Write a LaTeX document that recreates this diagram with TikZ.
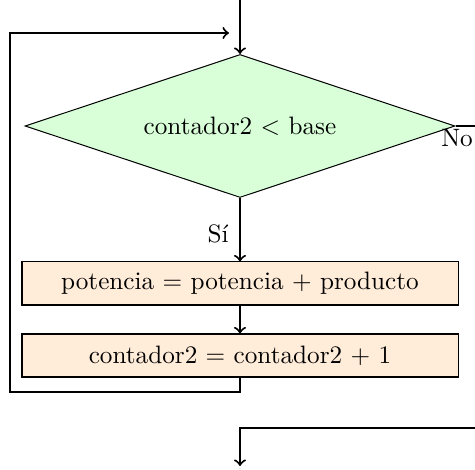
\documentclass[tikz,border=0pt]{standalone}
\usetikzlibrary{shapes.geometric}
\begin{document}
\begin{tikzpicture}[x=0.397pt,y=-0.397pt,
  decision/.style={diamond,draw,fill=green!15,line width=0.4pt,inner sep=1pt,shape aspect=3,minimum width=430*0.397pt,minimum height=143*0.397pt},
  process/.style={rectangle,draw,fill=orange!15,line width=0.4pt,inner sep=1pt,minimum width=436*0.397pt,minimum height=43*0.397pt},
  conn/.style={thick,->},
  line/.style={thick}]
\useasboundingbox (0,0) rectangle (475,470);
\node[decision] (d) at (240,126) {contador2 $<$ base};
\node[process] (b1) at (240,283.5) {potencia $=$ potencia $+$ producto};
\node[process] (b2) at (240,355.5) {contador2 $=$ contador2 $+$ 1};
\coordinate (top) at (240,0);
\coordinate (loopa) at (240,392);
\coordinate (loopb) at (10,392);
\coordinate (loopc) at (10,33);
\coordinate (loopd) at (229,33);
\coordinate (noend) at (475,126);
\coordinate (ba) at (475,428);
\coordinate (bb) at (240,428);
\coordinate (bc) at (240,466);
\draw[conn] (top) -- (d.north);
\draw[conn] (d.south) -- (b1.north);
\draw[conn] (b1.south) -- (b2.north);
\draw[conn] (b2.south) -- (loopa) -- (loopb) -- (loopc) -- (loopd);
\draw[line] (d.east) -- (noend);
\draw[conn] (ba) -- (bb) -- (bc);
\node (si) at (218,234) {Sí};
\node (no) at (457,138) {No};
\end{tikzpicture}
\end{document}
